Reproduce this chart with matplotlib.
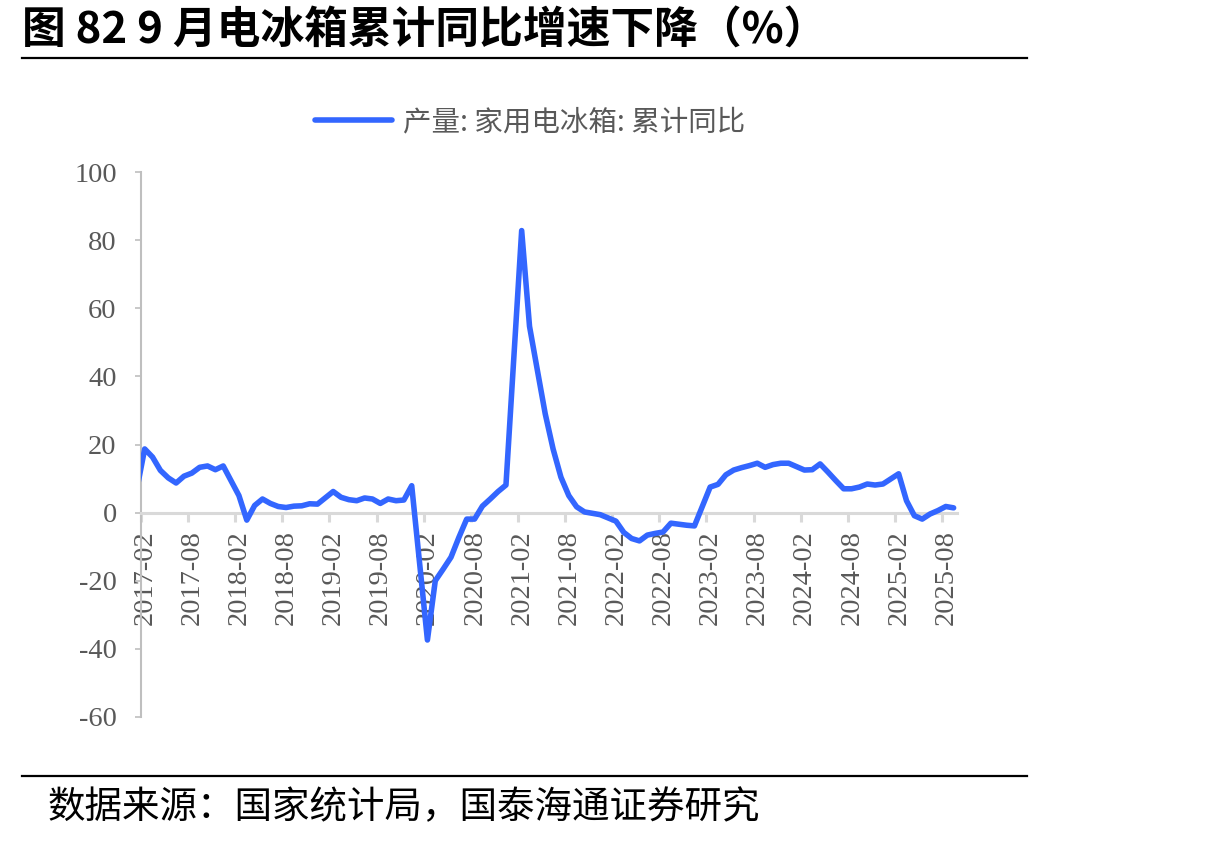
import matplotlib
matplotlib.use("Agg")
import matplotlib.pyplot as plt
from matplotlib.lines import Line2D
from matplotlib.transforms import ScaledTranslation

plt.rcParams['font.family'] = ['Liberation Serif', 'Noto Sans CJK SC', 'DejaVu Sans']
plt.rcParams['axes.unicode_minus'] = False

# 家用电冰箱产量累计同比（%），1月无数据
months = ['2016-12',
          '2017-02', '2017-03', '2017-04', '2017-05', '2017-06', '2017-07', '2017-08',
          '2017-09', '2017-10', '2017-11', '2017-12',
          '2018-02', '2018-03', '2018-04', '2018-05', '2018-06', '2018-07', '2018-08',
          '2018-09', '2018-10', '2018-11', '2018-12',
          '2019-02', '2019-03', '2019-04', '2019-05', '2019-06', '2019-07', '2019-08',
          '2019-09', '2019-10', '2019-11', '2019-12',
          '2020-02', '2020-03', '2020-04', '2020-05', '2020-06', '2020-07', '2020-08',
          '2020-09', '2020-10', '2020-11', '2020-12',
          '2021-02', '2021-03', '2021-04', '2021-05', '2021-06', '2021-07', '2021-08',
          '2021-09', '2021-10', '2021-11', '2021-12',
          '2022-02', '2022-03', '2022-04', '2022-05', '2022-06', '2022-07', '2022-08',
          '2022-09', '2022-10', '2022-11', '2022-12',
          '2023-02', '2023-03', '2023-04', '2023-05', '2023-06', '2023-07', '2023-08',
          '2023-09', '2023-10', '2023-11', '2023-12',
          '2024-02', '2024-03', '2024-04', '2024-05', '2024-06', '2024-07', '2024-08',
          '2024-09', '2024-10', '2024-11', '2024-12',
          '2025-02', '2025-03', '2025-04', '2025-05', '2025-06', '2025-07', '2025-08',
          '2025-09']
yoy = [-5.0,
       18.7, 16.3, 12.4, 10.2, 8.7, 10.7, 11.6, 13.3, 13.7, 12.6, 13.7,
       5.0, -2.2, 2.1, 4.0, 2.7, 1.8, 1.5, 1.9, 2.0, 2.6, 2.5,
       6.2, 4.5, 3.8, 3.5, 4.3, 4.0, 2.7, 4.0, 3.5, 3.7, 7.9,
       -37.4, -20.0, -16.6, -13.1, -7.3, -1.9, -1.9, 1.9, 4.0, 6.2, 8.1,
       82.8, 54.7, 41.8, 29.0, 18.7, 10.4, 5.0, 1.7, 0.2, -0.2, -0.6,
       -2.5, -5.8, -7.6, -8.3, -6.6, -6.1, -5.7, -3.1, -3.4, -3.7, -3.9,
       7.5, 8.3, 11.1, 12.5, 13.2, 13.8, 14.5, 13.3, 14.1, 14.5, 14.5,
       12.5, 12.6, 14.3, 11.9, 9.4, 7.0, 7.0, 7.5, 8.4, 8.1, 8.4,
       11.4, 3.5, -0.9, -1.9, -0.4, 0.6, 1.8, 1.4]

tick_labels = ['2017-02', '2017-08', '2018-02', '2018-08', '2019-02', '2019-08',
               '2020-02', '2020-08', '2021-02', '2021-08', '2022-02', '2022-08',
               '2023-02', '2023-08', '2024-02', '2024-08', '2025-02', '2025-08']


def month_pos(s, offset=0.0):
    y, m = s.split('-')
    return (int(y) - 2017) * 12 + int(m) - 2 + offset


x = [month_pos(m, 0.47) for m in months]
xt = [month_pos(t) for t in tick_labels]

blue = '#3366FF'
grey_txt = '#595959'

fig = plt.figure(figsize=(12.29, 8.44), dpi=100)
ax = fig.add_axes([141 / 1229, 1 - 717 / 844, (957 - 141) / 1229, (717 - 172) / 844])

# line goes over the tick labels, as in the original
ax.plot(x, yoy, color=blue, lw=4.0, solid_joinstyle='round', solid_capstyle='round',
        zorder=3)

ax.spines['top'].set_visible(False)
ax.spines['right'].set_visible(False)
ax.spines['bottom'].set_position(('data', 0))
ax.spines['bottom'].set_color('#D9D9D9')
ax.spines['bottom'].set_linewidth(2.2)
ax.spines['left'].set_color('#BFBFBF')
ax.spines['left'].set_linewidth(1.5)

ax.set_xlim(0, 103.9)
ax.set_ylim(-60, 100)
ax.set_yticks(range(-60, 101, 20))
ax.set_xticks(xt)
ax.set_xticklabels(tick_labels)

ax.tick_params(axis='y', direction='out', length=4.5, width=1.2, color='#BFBFBF',
               labelsize=20.5, labelcolor=grey_txt, pad=13)
ax.tick_params(axis='x', direction='out', length=6.5, width=2.2, color='#D9D9D9',
               labelsize=20.5, labelcolor=grey_txt, pad=6, labelrotation=90)

# labels sit a little right of their ticks in the original
shift = ScaledTranslation(4 / 100, 0, fig.dpi_scale_trans)
for lab in ax.get_xticklabels():
    lab.set_transform(lab.get_transform() + shift)

handle = Line2D([], [], color=blue, lw=4.0, solid_capstyle='round')
fig.legend([handle], ['产量: 家用电冰箱: 累计同比'], loc='center',
           bbox_to_anchor=(530 / 1229, 1 - 122 / 844), frameon=False,
           handlelength=2.7, handletextpad=0.4,
           prop={'family': ['Noto Sans CJK SC'], 'size': 20.5}, labelcolor=grey_txt)

# title and source
fig.text(22 / 1229, 1 - 31 / 844, '图 82 9 月电冰箱累计同比增速下降（%）',
         ha='left', va='center', fontsize=31.5, fontweight='bold',
         family=['Noto Sans CJK SC'], color='black')
fig.add_artist(Line2D([22 / 1229, 1027 / 1229], [1 - 58 / 844, 1 - 58 / 844],
                      color='black', lw=1.6))
fig.add_artist(Line2D([22 / 1229, 1027 / 1229], [1 - 776 / 844, 1 - 776 / 844],
                      color='black', lw=1.6))
fig.text(48 / 1229, 1 - 808 / 844, '数据来源：国家统计局，国泰海通证券研究',
         ha='left', va='center', fontsize=27, family=['Noto Sans CJK SC'],
         color='black')

fig.savefig('out.png', dpi=100)
